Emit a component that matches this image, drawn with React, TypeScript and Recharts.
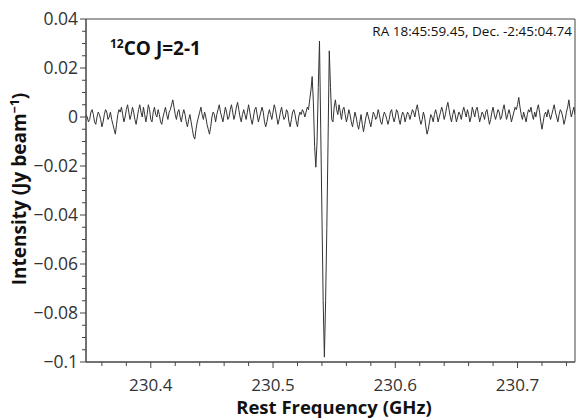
import React from 'react';
import { LineChart, Line, XAxis, YAxis, ReferenceArea } from 'recharts';

const FREQ_START = 230.347;
const CHANNEL_WIDTH = 0.001;

const intensity: number[] = [
  0.001, 0.000, -0.002, -0.001, 0.002, 0.003, 0.001, -0.002, -0.003, 0.000, 0.002, 0.001, -0.001, -0.004, -0.002, 0.001, 0.003, 0.002, -0.001, 0.000,
  0.002, -0.001, -0.003, -0.005, -0.007, -0.003, 0.001, 0.003, 0.002, 0.004, 0.001, -0.002, 0.000, 0.003, 0.005, 0.002, -0.001, 0.001, 0.004, 0.002,
  -0.001, -0.003, 0.000, 0.003, 0.005, 0.002, 0.000, 0.004, 0.001, -0.002, 0.001, 0.005, 0.003, -0.001, -0.002, 0.002, 0.004, 0.001, 0.000, 0.003,
  0.001, -0.002, -0.003, 0.000, 0.002, 0.004, 0.001, -0.001, 0.002, 0.003, 0.005, 0.007, 0.004, 0.001, -0.001, 0.002, 0.003, 0.000, -0.002, 0.001,
  0.003, 0.001, -0.002, -0.004, -0.001, 0.001, -0.002, -0.005, -0.008, -0.009, -0.005, -0.002, 0.000, 0.002, 0.004, 0.001, -0.001, 0.002, 0.000, -0.003,
  -0.005, -0.007, -0.004, 0.000, 0.002, 0.001, -0.002, 0.001, 0.003, 0.005, 0.002, 0.000, -0.002, 0.001, 0.004, 0.002, -0.001, 0.000, 0.003, 0.005,
  0.002, -0.001, 0.001, 0.004, 0.006, 0.003, 0.000, -0.002, 0.001, 0.003, 0.001, -0.001, 0.002, 0.005, 0.002, -0.001, -0.003, 0.000, 0.003, 0.004,
  0.001, -0.002, 0.000, 0.002, 0.004, 0.002, -0.002, -0.004, -0.002, 0.001, 0.003, 0.001, -0.001, 0.002, 0.005, 0.003, 0.000, -0.003, -0.001, 0.002,
  0.004, 0.001, -0.001, 0.000, 0.003, 0.002, -0.002, -0.004, -0.001, 0.002, 0.003, 0.001, -0.002, -0.004, 0.000, 0.002, 0.001, 0.003, 0.002, 0.000,
  0.002, 0.004, 0.003, 0.007, 0.011, 0.0165, 0.006, -0.012, -0.0205, -0.010, 0.012, 0.031, -0.005, -0.040, -0.075, -0.098, -0.075, -0.045, -0.010, 0.027,
  0.012, -0.001, -0.002, 0.004, 0.007, 0.003, 0.001, 0.005, 0.002, -0.001, 0.003, 0.004, 0.001, -0.002, 0.000, 0.003, 0.001, -0.002, -0.004, -0.001,
  0.002, 0.000, -0.003, -0.005, -0.002, 0.001, -0.003, -0.006, -0.003, 0.000, 0.002, 0.000, -0.002, -0.004, -0.001, 0.002, 0.001, -0.001, 0.000, 0.003,
  0.001, -0.002, -0.003, 0.000, 0.002, 0.001, -0.001, -0.003, -0.001, 0.002, 0.003, 0.000, -0.002, 0.000, 0.003, 0.002, -0.001, -0.003, 0.000, 0.002,
  0.001, -0.002, 0.000, 0.002, 0.001, -0.001, 0.001, 0.003, 0.002, 0.000, 0.003, 0.005, 0.002, -0.001, -0.003, -0.001, 0.002, 0.000, -0.004, -0.007,
  -0.005, -0.002, 0.001, 0.000, -0.002, 0.001, 0.003, 0.001, -0.002, 0.000, 0.002, 0.004, 0.002, -0.001, 0.001, 0.004, 0.006, 0.003, 0.000, -0.002,
  0.001, 0.003, 0.001, -0.002, 0.000, 0.002, 0.001, -0.001, 0.002, 0.004, 0.002, 0.000, 0.003, 0.001, -0.002, 0.000, 0.004, 0.002, 0.000, 0.003,
  0.004, 0.001, -0.002, 0.000, 0.002, 0.001, -0.001, 0.002, 0.003, 0.000, -0.003, -0.001, 0.002, 0.004, 0.001, -0.001, 0.001, 0.003, 0.002, -0.001,
  0.000, 0.003, 0.005, 0.002, -0.001, 0.001, 0.003, 0.001, -0.002, 0.000, 0.002, 0.004, 0.003, 0.005, 0.008, 0.004, 0.001, -0.001, 0.002, 0.000,
  -0.002, 0.001, 0.003, 0.002, 0.004, 0.001, -0.001, 0.002, 0.000, 0.003, 0.005, 0.002, -0.002, -0.005, -0.002, 0.001, 0.002, 0.000, 0.003, 0.001,
  -0.001, 0.001, 0.003, 0.005, 0.002, 0.000, -0.002, 0.001, 0.003, 0.002, 0.000, -0.003, -0.001, 0.002, 0.004, 0.007, 0.003, 0.000, 0.002, 0.004,
  0.001,
];

const X_DOMAIN: [number, number] = [230.347, 230.747];
const Y_DOMAIN: [number, number] = [-0.1, 0.04];

const X_TICKS = [
  230.36, 230.38, 230.4, 230.42, 230.44, 230.46, 230.48, 230.5, 230.52, 230.54,
  230.56, 230.58, 230.6, 230.62, 230.64, 230.66, 230.68, 230.7, 230.72, 230.74,
];
const X_MAJOR = [230.4, 230.5, 230.6, 230.7];
const X_LABELS = ['230.4', '230.5', '230.6', '230.7'];

const Y_TICKS = [
  0.04, 0.035, 0.03, 0.025, 0.02, 0.015, 0.01, 0.005, 0, -0.005, -0.01, -0.015,
  -0.02, -0.025, -0.03, -0.035, -0.04, -0.045, -0.05, -0.055, -0.06, -0.065,
  -0.07, -0.075, -0.08, -0.085, -0.09, -0.095, -0.1,
];
const Y_MAJOR = [0.04, 0.02, 0, -0.02, -0.04, -0.06, -0.08, -0.1];
const Y_LABELS = ['0.04', '0.02', '0', '\u22120.02', '\u22120.04', '\u22120.06', '\u22120.08', '\u22120.1'];

const data = intensity.map((v, i) => ({ freq: FREQ_START + i * CHANNEL_WIDTH, intensity: v }));

const FONT = '"Open Sans", "Noto Sans", sans-serif';
const AXIS_COLOR = '#444';
const LABEL_COLOR = '#333';

const findIdx = (arr: number[], v: number) => arr.findIndex((m) => Math.abs(m - v) < 1e-7);

const XTick = (props: any) => {
  const { x, y, payload } = props;
  const idx = findIdx(X_MAJOR, payload.value);
  const major = idx >= 0;
  return (
    <g>
      <line x1={x} x2={x} y1={y} y2={y + (major ? 6 : 4)} stroke={AXIS_COLOR} strokeWidth={1} />
      {major && (
        <text x={x} y={y + 29} textAnchor="middle" fontSize={17} fontFamily={FONT} fill={LABEL_COLOR}>
          {X_LABELS[idx]}
        </text>
      )}
    </g>
  );
};

const YTick = (props: any) => {
  const { x, y, payload } = props;
  const idx = findIdx(Y_MAJOR, payload.value);
  const major = idx >= 0;
  return (
    <g>
      <line x1={x} x2={x - (major ? 6 : 4)} y1={y} y2={y} stroke={AXIS_COLOR} strokeWidth={1} />
      {major && (
        <text x={x - 8} y={y + 6} textAnchor="end" fontSize={17.5} fontFamily={FONT} fill={LABEL_COLOR}>
          {Y_LABELS[idx]}
        </text>
      )}
    </g>
  );
};

export default function App() {
  return (
    <div style={{ position: 'absolute', left: 0, top: 0, width: 576, height: 420, background: '#fff' }}>
      <LineChart width={576} height={420} data={data} margin={{ top: 19, right: 1, bottom: 0, left: 0 }}>
        <XAxis
          dataKey="freq"
          type="number"
          domain={X_DOMAIN}
          ticks={X_TICKS}
          allowDataOverflow
          height={58}
          tickSize={0}
          tickMargin={0}
          tickLine={false}
          axisLine={{ stroke: AXIS_COLOR }}
          tick={<XTick />}
          interval={0}
        />
        <YAxis
          type="number"
          domain={Y_DOMAIN}
          ticks={Y_TICKS}
          allowDataOverflow
          width={86}
          tickSize={0}
          tickMargin={0}
          tickLine={false}
          axisLine={{ stroke: AXIS_COLOR }}
          tick={<YTick />}
          interval={0}
        />
        <ReferenceArea
          x1={X_DOMAIN[0]}
          x2={X_DOMAIN[1]}
          y1={Y_DOMAIN[0]}
          y2={Y_DOMAIN[1]}
          fill="none"
          stroke={AXIS_COLOR}
          strokeWidth={1}
          ifOverflow="visible"
        />
        <Line
          type="linear"
          dataKey="intensity"
          stroke="#333"
          strokeWidth={1}
          dot={false}
          isAnimationActive={false}
        />
      </LineChart>
      <svg
        width={576}
        height={420}
        style={{ position: 'absolute', left: 0, top: 0, pointerEvents: 'none' }}
      >
        <text x={572} y={36} textAnchor="end" fontSize={13.5} fontFamily={FONT} fill="#111">
          RA 18:45:59.45, Dec. -2:45:04.74
        </text>
        <text x={110} y={55} fontSize={19} fontWeight="bold" fontFamily={FONT} fill="#111">
          <tspan fontSize={12} dy={-7}>12</tspan>
          <tspan dy={7}>CO J=2-1</tspan>
        </text>
        <text x={334} y={414} textAnchor="middle" fontSize={18.5} fontWeight="bold" fontFamily={FONT} fill="#111">
          Rest Frequency (GHz)
        </text>
        <text
          transform="translate(26,189) rotate(-90)"
          textAnchor="middle"
          fontSize={19}
          fontWeight="bold"
          fontFamily={FONT}
          fill="#111"
        >
          Intensity (Jy beam
          <tspan fontSize={12.5} dy={-7}>{'\u22121'}</tspan>
          <tspan dy={7}>)</tspan>
        </text>
      </svg>
    </div>
  );
}
